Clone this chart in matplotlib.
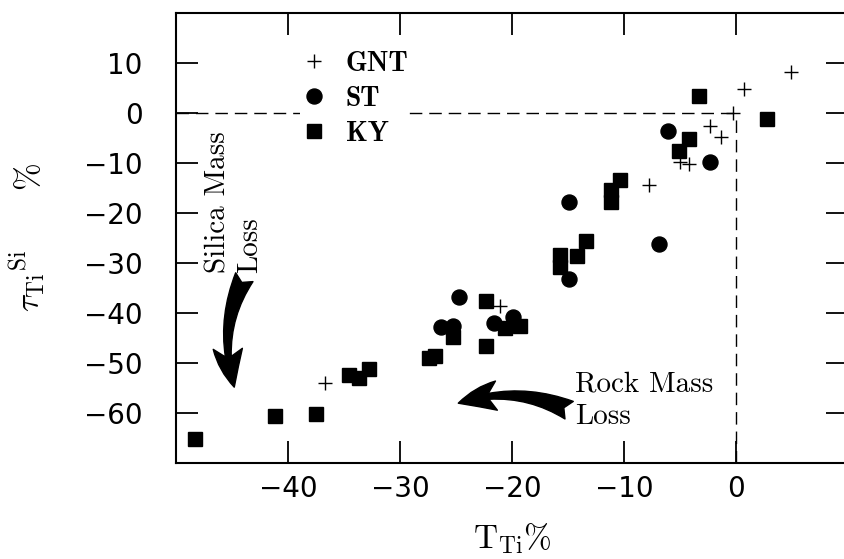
import numpy as np
import matplotlib.pyplot as plt

plt.rcParams['mathtext.fontset'] = 'cm'

# Ti-normalised mass change (x) vs silica mass change (y), in percent
gnt_x = [4.9, 0.7, -0.3, -2.3, -1.3, -4.2, -5.0, -7.8, -21.1, -36.7]
gnt_y = [8.1, 4.7, -0.1, -2.7, -4.9, -10.3, -9.8, -14.5, -38.7, -54.1]

st_x = [-6.1, -2.3, -14.9, -6.9, -14.9, -24.7, -26.3, -25.3, -21.6, -19.9]
st_y = [-3.7, -9.9, -17.9, -26.3, -33.3, -36.9, -42.9, -42.7, -42.1, -40.8]

ky_x = [-3.3, 2.8, -4.2, -5.1, -10.4, -11.2, -11.2, -13.4, -14.2, -15.7,
        -15.7, -22.3, -25.3, -20.6, -19.3, -22.3, -27.4, -26.9, -34.6, -33.7,
        -32.8, -41.2, -37.5, -48.3]
ky_y = [3.3, -1.3, -5.3, -7.6, -13.5, -15.5, -17.8, -25.6, -28.7, -28.5,
        -30.8, -37.6, -44.8, -43.1, -42.7, -46.7, -49.1, -48.7, -52.5, -53.1,
        -51.3, -60.7, -60.3, -65.2]

xticks = [-40, -30, -20, -10, 0]
yticks = [10, 0, -10, -20, -30, -40, -50, -60]

fig = plt.figure(figsize=(8.45, 5.59), dpi=100)
ax = fig.add_axes([0.2083, 0.1723, 0.7953, 0.805])

ax.set_xlim(-50, 10)
ax.set_ylim(-70, 20)

# reference lines through the origin
ax.hlines(0, -50, 0, colors='k', linestyles=(0, (9, 5)), linewidth=1.0, zorder=1)
ax.vlines(0, -70, 0, colors='k', linestyles=(0, (9, 5)), linewidth=1.0, zorder=1)

ax.plot(gnt_x, gnt_y, ls='none', marker='+', ms=10, mew=1.0, color='k', label='GNT')
ax.plot(st_x, st_y, ls='none', marker='o', ms=10.8, color='k', label='ST')
ax.plot(ky_x, ky_y, ls='none', marker='s', ms=9.6, color='k', label='KY')

ax.set_xticks(xticks)
ax.set_yticks(yticks)
ax.tick_params(direction='in', length=16, width=1.3, top=True, right=True,
               labelsize=20)
ax.tick_params(axis='x', pad=9)
ax.tick_params(axis='y', pad=24)
for lab in ax.get_xticklabels() + ax.get_yticklabels():
    lab.set_family('DejaVu Sans')
for sp in ax.spines.values():
    sp.set_linewidth(1.5)

ax.set_xlabel(r'$\mathrm{T}_{\mathrm{Ti}}\%$', fontsize=24)
ax.xaxis.set_label_coords(0.5, -0.13)
ax.set_ylabel(r'$\tau_{\mathrm{Ti}}{}^{\mathrm{Si}}\qquad\%$', fontsize=24)
ax.yaxis.set_label_coords(-0.19, 0.5)

leg = ax.legend(loc='upper left', bbox_to_anchor=(0.184, 0.915), numpoints=1,
                frameon=True, fancybox=False, borderpad=0.0, borderaxespad=0.0,
                handlelength=1.0, handletextpad=0.65, labelspacing=0.32,
                prop={'family': 'cmb10', 'size': 20})
leg.get_frame().set_edgecolor('none')
leg.get_frame().set_facecolor('white')
leg.get_frame().set_alpha(1.0)

arrow = dict(arrowstyle='fancy,head_length=1.4,head_width=1.05,tail_width=0.7',
             connectionstyle='arc3,rad=0.2', fc='k', ec='k',
             mutation_scale=20, shrinkA=0, shrinkB=0)
ax.annotate('', xy=(-44.8, -54.9), xytext=(-43.9, -32.9), arrowprops=arrow)
ax.annotate('', xy=(-24.8, -58.1), xytext=(-14.9, -59.5), arrowprops=arrow)

ax.text(-47.4, -32.1, 'Silica Mass\nLoss', rotation=90, ha='left', va='bottom',
        family='cmr10', fontsize=21, linespacing=1.25)
ax.text(-14.4, -57.6, 'Rock Mass\nLoss', ha='left', va='center',
        family='cmr10', fontsize=21, linespacing=1.3)

fig.savefig('out.png', dpi=100)
